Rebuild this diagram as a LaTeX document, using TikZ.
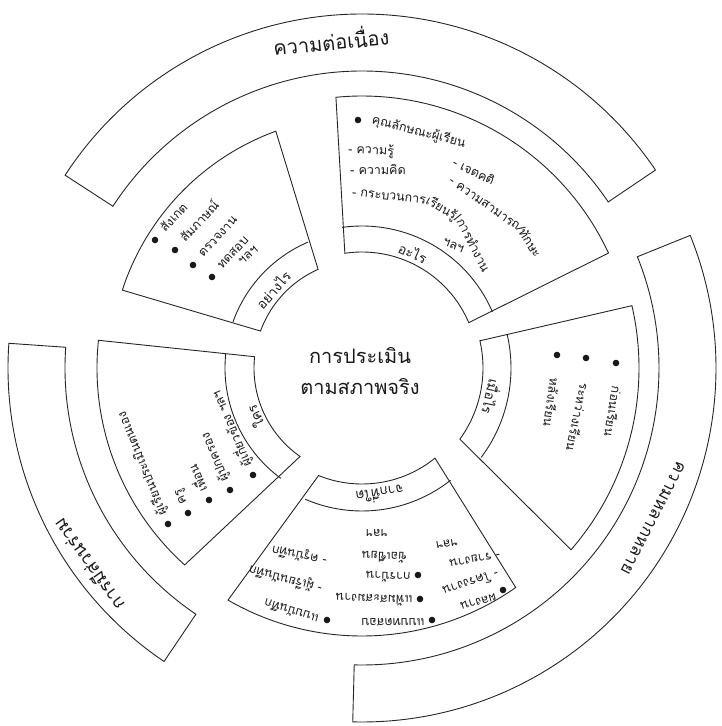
\documentclass[tikz,border=0pt]{standalone}
\usepackage{fontspec}
\newfontfamily\thai[Script=Thai]{Loma}
\begin{document}
\begin{tikzpicture}[x=1pt,y=1pt,
  ln/.style={draw=black!85, line width=0.9pt},
  tx/.style={font=\thai\fontsize{12.5}{14}\selectfont, inner sep=0pt, text height=9pt, text depth=3pt, text=black!90},
  lab/.style={font=\thai\fontsize{13.5}{15}\selectfont, inner sep=0pt, text=black!90},
  ringtx/.style={font=\thai\fontsize{18}{20}\selectfont, inner sep=0pt, text=black!90},
  ctr/.style={font=\thai\fontsize{20}{31}\selectfont, align=center, text=black!90},
  dotm/.style={fill=black!90}]
\useasboundingbox (-362,-358) rectangle (360,368);
% outer ring segments
\draw[ln] (34:297pt) arc[start angle=34,end angle=147,radius=297pt] -- (147:354pt) arc[start angle=147,end angle=34,radius=354pt] -- cycle;
\draw[ln] (176:297pt) arc[start angle=176,end angle=236,radius=297pt] -- (236:354pt) arc[start angle=236,end angle=176,radius=354pt] -- cycle;
\draw[ln] (-91.5:297pt) arc[start angle=-91.5,end angle=22,radius=297pt] -- (22:354pt) arc[start angle=22,end angle=-91.5,radius=354pt] -- cycle;
% top-right box
\draw[ln] (23:116pt) arc[start angle=23,end angle=98.5,radius=116pt] -- (95.5:272pt) arc[start angle=95.5,end angle=25,radius=272pt] -- cycle;
\draw[ln] (23.3:142pt) arc[start angle=23.3,end angle=98,radius=142pt];
% top-left box
\draw[ln] (114:108pt) arc[start angle=114,end angle=160,radius=108pt] -- (162:252pt) arc[start angle=162,end angle=110,radius=252pt] -- cycle;
\draw[ln] (113.2:137pt) arc[start angle=113.2,end angle=160.4,radius=137pt];
% left box
\draw[ln] (174:108pt) arc[start angle=174,end angle=235,radius=108pt] -- (228:265pt) arc[start angle=228,end angle=174,radius=265pt] -- cycle;
\draw[ln] (174:137pt) arc[start angle=174,end angle=233.7,radius=137pt];
% bottom box
\draw[ln] (248:116pt) arc[start angle=248,end angle=309,radius=116pt] -- (305:268pt) arc[start angle=305,end angle=240,radius=268pt] -- cycle;
\draw[ln] (246.6:143pt) arc[start angle=246.6,end angle=308.3,radius=143pt];
% right box
\draw[ln] (-36:121pt) arc[start angle=-36,end angle=13,radius=121pt] -- (13:277pt) arc[start angle=13,end angle=-41,radius=277pt] -- cycle;
\draw[ln] (-36.9:149pt) arc[start angle=-36.9,end angle=13,radius=149pt];

% centre
\node[ctr] (centre) at (-2,-3) {การประเมิน\\ตามสภาพจริง};
% ring texts
\node[ringtx, font=\thai\fontsize{20}{22}\selectfont, rotate=5.4] (rtop) at (-31,328) {ความต่อเนื่อง};
\node[ringtx, rotate=125.7] (rleft) at (-274,-197) {การมีส่วนร่วม};
\node[ringtx, font=\thai\fontsize{17}{19}\selectfont, rotate=-117.3] (rright) at (291,-150) {ความหลากหลาย};
% band labels
\node[lab, rotate=-24] (lwhat) at (51,115) {อะไร};
\node[lab, rotate=48.8] (lhow) at (-89,78) {อย่างไร};
\node[lab, rotate=114.6] (lwho) at (-107,-49) {ใคร};
\node[lab, rotate=-102.6] (lwhen) at (130,-29) {เมื่อไร};
\node[lab, rotate=188] (lwhere) at (18,-127) {จากที่ใด};

% top-right items
\fill[dotm] (-4,248) circle (3.3pt);
\node[tx, anchor=west, rotate=-14] (a1) at (10,247) {คุณลักษณะผู้เรียน};
\node[tx, anchor=west, rotate=-3] (a2) at (-14,218) {- ความรู้};
\node[tx, anchor=west, rotate=-1] (a3) at (-12,197) {- ความคิด};
\node[tx, anchor=west, rotate=-6] (a4) at (-10,175) {- กระบวนการ};
\node[tx, anchor=west, rotate=-30] (a4b) at (a4.east) {เรียนรู้/};
\node[tx, anchor=west, rotate=-63] (a4c) at (a4b.east) {การทำงาน};
\node[tx, anchor=west, rotate=-26] (a5) at (91,205) {- เจตคติ};
\node[tx, anchor=west, rotate=-35] (a6) at (88,188) {- ความสามารถ};
\node[tx, anchor=west, rotate=-57] (a6b) at (a6.east) {/ทักษะ};
\node[tx, anchor=west, rotate=-22] (a7) at (81,126) {ฯลฯ};

% top-left items
\fill[dotm] (-207,128) circle (3.3pt);
\fill[dotm] (-187,118) circle (3.3pt);
\fill[dotm] (-169,103) circle (3.3pt);
\fill[dotm] (-150,91) circle (3.3pt);
\node[tx, anchor=west, rotate=47] (b1) at (-199,137) {สังเกต};
\node[tx, anchor=west, rotate=47] (b2) at (-179,127) {สัมภาษณ์};
\node[tx, anchor=west, rotate=47] (b3) at (-161,112) {ตรวจงาน};
\node[tx, anchor=west, rotate=47] (b4) at (-142,100) {ทดสอบ};
\node[tx, anchor=west, rotate=40] (b5) at (-122,105) {ฯลฯ};

% left items
\fill[dotm] (-109,-107) circle (3.3pt);
\fill[dotm] (-132,-122) circle (3.3pt);
\fill[dotm] (-153,-132) circle (3.3pt);
\fill[dotm] (-174,-145) circle (3.3pt);
\fill[dotm] (-194,-156) circle (3.3pt);
\node[tx, anchor=west, rotate=113] (c1) at (-113,-98) {ผู้เกี่ยวข้อง ฯลฯ};
\node[tx, anchor=west, rotate=113] (c2) at (-136,-113) {ผู้ปกครอง};
\node[tx, anchor=west, rotate=113] (c3) at (-157,-123) {เพื่อน};
\node[tx, anchor=west, rotate=113] (c4) at (-178,-136) {ครู};
\node[tx, anchor=west, rotate=112] (c5) at (-198,-147) {ผู้เรียนประเมินตนเอง};

% right items
\fill[dotm] (195,13) circle (3.3pt);
\fill[dotm] (224,10) circle (3.3pt);
\fill[dotm] (254,5) circle (3.3pt);
\node[tx, anchor=west, rotate=-98] (d1) at (191,-10) {หลังเรียน};
\node[tx, anchor=west, rotate=-102] (d2) at (221,-15) {ระหว่างเรียน};
\node[tx, anchor=west, rotate=-99] (d3) at (253,-18) {ก่อนเรียน};

% bottom items (upside down)
\fill[dotm] (141,-222) circle (3.3pt);
\node[tx, anchor=west, rotate=196] (e1) at (134,-228) {ผลงาน};
\node[tx, anchor=west, rotate=198] (e2) at (136,-204) {- โครงงาน};
\node[tx, anchor=west, rotate=190] (e3) at (138,-186) {- รายงาน};
\node[tx, rotate=190] (e4) at (85,-175) {ฯลฯ};
\fill[dotm] (70,-252) circle (3.3pt);
\fill[dotm] (58,-231) circle (3.3pt);
\fill[dotm] (56,-207) circle (3.3pt);
\node[tx, anchor=west, rotate=181] (f1) at (63,-253) {แบบทดสอบ};
\node[tx, anchor=west, rotate=178] (f2) at (51,-231) {แฟ้มสะสมงาน};
\node[tx, anchor=west, rotate=178] (f3) at (49,-208) {การบ้าน};
\node[tx, anchor=west, rotate=178] (f4) at (45,-188) {ข้อเขียน};
\node[tx, rotate=180] (f5) at (15,-164) {ฯลฯ};
\fill[dotm] (-35,-252) circle (3.3pt);
\node[tx, anchor=west, rotate=163] (g1) at (-43,-250) {แบบบันทึก};
\node[tx, anchor=west, rotate=165] (g2) at (-40,-220) {- ผู้เรียนบันทึก};
\node[tx, anchor=west, rotate=168] (g3) at (-35,-192) {- ครูบันทึก};
\end{tikzpicture}
\end{document}
